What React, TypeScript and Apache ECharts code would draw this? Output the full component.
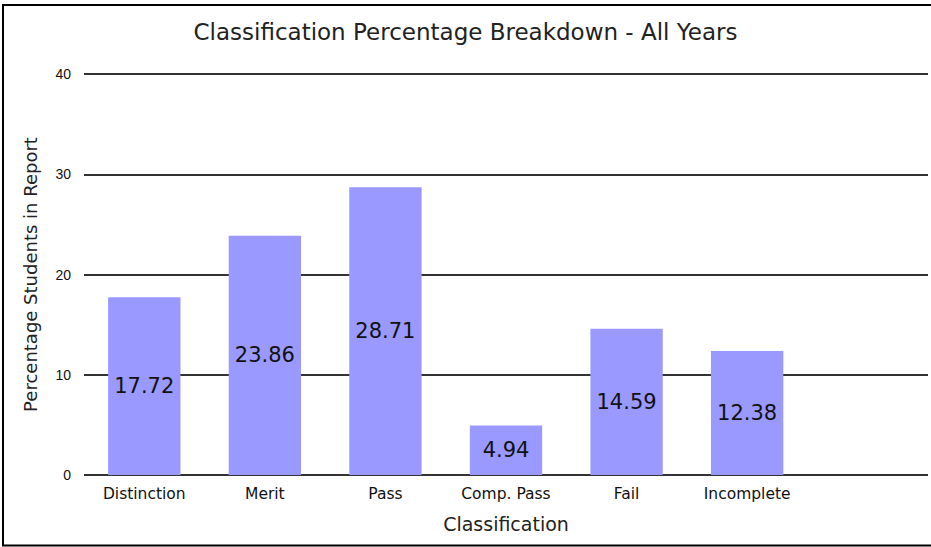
import React, { useEffect, useRef } from "react";
import * as echarts from "echarts";

const categories = ["Distinction", "Merit", "Pass", "Comp. Pass", "Fail", "Incomplete", ""];
const percentages = [17.72, 23.86, 28.71, 4.94, 14.59, 12.38, null];
const yTicks = [0, 10, 20, 30, 40];

export default function App() {
  const ref = useRef<HTMLDivElement>(null);
  useEffect(() => {
    document.body.style.margin = "0";
    const chart = echarts.init(ref.current!, null, { renderer: "svg" });
    chart.setOption({
      animation: false,
      backgroundColor: "#ffffff",
      title: {
        text: "Classification Percentage Breakdown - All Years",
        left: "center",
        top: 15,
        textStyle: { fontFamily: "DejaVu Sans", fontSize: 23, fontWeight: "normal", color: "#222" },
      },
      graphic: [
        {
          type: "rect",
          shape: { x: 3, y: 5, width: 960, height: 540.5 },
          style: { fill: "none", stroke: "#000", lineWidth: 2 },
          silent: true,
          z: 100,
        },
      ],
      grid: { left: 84, right: 3, top: 74, bottom: 72, containLabel: false },
      xAxis: {
        type: "category",
        data: categories,
        name: "Classification",
        nameLocation: "middle",
        nameGap: 39,
        nameTextStyle: { fontFamily: "DejaVu Sans", fontSize: 19, color: "#222" },
        axisLine: { show: false },
        axisTick: { show: false },
        axisLabel: { margin: 11, fontFamily: "DejaVu Sans", fontSize: 15.5, color: "#111", interval: 0 },
      },
      yAxis: {
        type: "value",
        min: yTicks[0],
        max: yTicks[yTicks.length - 1],
        interval: 10,
        name: "Percentage Students in Report",
        nameLocation: "middle",
        nameGap: 45,
        nameRotate: 90,
        nameTextStyle: { fontFamily: "DejaVu Sans", fontSize: 18, color: "#222" },
        axisLine: { show: false },
        axisTick: { show: false },
        axisLabel: { margin: 13, fontFamily: "Liberation Sans", fontSize: 14, color: "#111" },
        splitLine: { show: true, lineStyle: { color: "#333", width: 2 } },
      },
      series: [
        {
          type: "bar",
          data: percentages,
          barCategoryGap: "40%",
          itemStyle: { color: "#9999ff" },
          label: {
            show: true,
            position: "inside",
            fontFamily: "DejaVu Sans",
            fontSize: 21,
            color: "#111",
          },
        },
      ],
    });
    return () => chart.dispose();
  }, []);
  return <div ref={ref} style={{ position: "fixed", left: 0, top: 0, width: 931, height: 547 }} />;
}
